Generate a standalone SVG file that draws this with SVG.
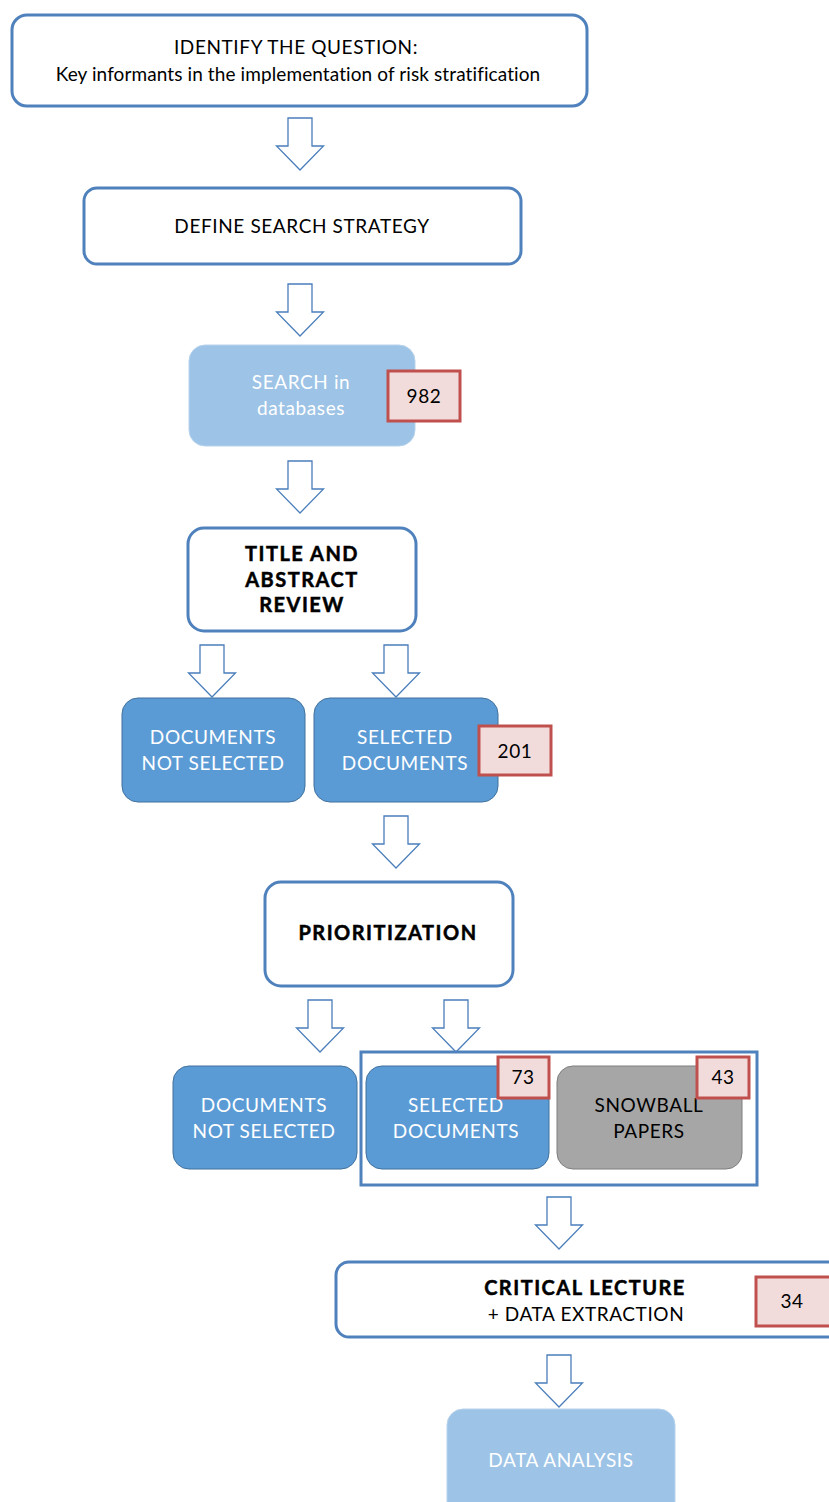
<svg xmlns="http://www.w3.org/2000/svg" width="829" height="1502" viewBox="0 0 829 1502">
  <defs>
    <style>
      text { font-family: Lato, "Open Sans", "Liberation Sans", sans-serif; font-size: 19px; letter-spacing: 0.6px; text-anchor: middle; dominant-baseline: middle; }
      .dark { fill: #000000; }
      .light { fill: #ffffff; }
      .plain { letter-spacing: 0.1px; }
      .bold { font-weight: bold; font-size: 20px; letter-spacing: 1.5px; stroke: #000000; stroke-width: 0.5px; }
      .outline { fill: #ffffff; stroke: #4f81bd; stroke-width: 3; }
      .pale { fill: #9dc3e6; stroke: #b7d3ec; stroke-width: 1; }
      .mid { fill: #5b9bd5; stroke: #41719c; stroke-width: 1; }
      .grey { fill: #a6a6a6; stroke: #7f7f7f; stroke-width: 1; }
      .badge { fill: #f2dcdb; stroke: #c0504d; stroke-width: 3; }
      .frame { fill: none; stroke: #4f81bd; stroke-width: 3; }
      .arrow { fill: #ffffff; stroke: #4a7ebb; stroke-width: 1.3; }
    </style>
    <!-- block arrow pointing down, tip at origin -->
    <path id="down" d="M -12 -52 L 12 -52 L 12 -24 L 23.5 -24 L 0 0 L -23.5 -24 L -12 -24 Z"/>
  </defs>

  <g id="connectors">
    <use href="#down" class="arrow" x="300" y="170"/>
    <use href="#down" class="arrow" x="300" y="336"/>
    <use href="#down" class="arrow" x="300" y="513"/>
    <use href="#down" class="arrow" x="212" y="697"/>
    <use href="#down" class="arrow" x="396" y="697"/>
    <use href="#down" class="arrow" x="396" y="868"/>
    <use href="#down" class="arrow" x="320" y="1052"/>
    <use href="#down" class="arrow" x="456" y="1052"/>
    <use href="#down" class="arrow" x="559" y="1249"/>
    <use href="#down" class="arrow" x="559" y="1407"/>
  </g>

  <g id="identify-question">
    <rect class="outline" x="12" y="15" width="575" height="91" rx="15"/>
    <text class="dark" x="296" y="49">IDENTIFY THE QUESTION:</text>
    <text class="dark plain" x="298" y="76">Key informants in the implementation of risk stratification</text>
  </g>

  <g id="search-strategy">
    <rect class="outline" x="84" y="188" width="437" height="76" rx="13"/>
    <text class="dark" x="302" y="228">DEFINE SEARCH STRATEGY</text>
  </g>

  <g id="search-databases">
    <rect class="pale" x="189" y="345" width="226" height="101" rx="16"/>
    <text class="light" x="301" y="384">SEARCH in</text>
    <text class="light" x="301" y="410">databases</text>
    <rect class="badge" x="388" y="371" width="72" height="50"/>
    <text class="dark" x="424" y="398">982</text>
  </g>

  <g id="title-abstract-review">
    <rect class="outline" x="188" y="528" width="228" height="103" rx="16"/>
    <text class="dark bold" x="302" y="556">TITLE AND</text>
    <text class="dark bold" x="302" y="582">ABSTRACT</text>
    <text class="dark bold" x="302" y="607">REVIEW</text>
  </g>

  <g id="not-selected-1">
    <rect class="mid" x="122" y="698" width="183" height="104" rx="16"/>
    <text class="light" x="213" y="739">DOCUMENTS</text>
    <text class="light" x="213" y="765">NOT SELECTED</text>
  </g>

  <g id="selected-1">
    <rect class="mid" x="314" y="698" width="184" height="104" rx="16"/>
    <text class="light" x="405" y="739">SELECTED</text>
    <text class="light" x="405" y="765">DOCUMENTS</text>
    <rect class="badge" x="479" y="726" width="72" height="49"/>
    <text class="dark" x="515" y="753">201</text>
  </g>

  <g id="prioritization">
    <rect class="outline" x="265" y="882" width="248" height="104" rx="16"/>
    <text class="dark bold" x="388" y="935">PRIORITIZATION</text>
  </g>

  <g id="included-set">
    <rect class="frame" x="361" y="1052" width="396" height="133"/>
  </g>

  <g id="not-selected-2">
    <rect class="mid" x="173" y="1066" width="184" height="103" rx="16"/>
    <text class="light" x="264" y="1107">DOCUMENTS</text>
    <text class="light" x="264" y="1133">NOT SELECTED</text>
  </g>

  <g id="selected-2">
    <rect class="mid" x="366" y="1066" width="183" height="103" rx="16"/>
    <text class="light" x="456" y="1107">SELECTED</text>
    <text class="light" x="456" y="1133">DOCUMENTS</text>
    <rect class="badge" x="498" y="1057" width="51" height="41"/>
    <text class="dark" x="523" y="1079">73</text>
  </g>

  <g id="snowball-papers">
    <rect class="grey" x="557" y="1066" width="185" height="103" rx="16"/>
    <text class="dark" x="649" y="1107">SNOWBALL</text>
    <text class="dark" x="649" y="1133">PAPERS</text>
    <rect class="badge" x="697" y="1057" width="52" height="41"/>
    <text class="dark" x="723" y="1079">43</text>
  </g>

  <g id="critical-lecture">
    <rect class="outline" x="336" y="1262" width="510" height="75" rx="13"/>
    <text class="dark bold" x="585" y="1290">CRITICAL LECTURE</text>
    <text class="dark" x="586" y="1316">+ DATA EXTRACTION</text>
    <rect class="badge" x="756" y="1277" width="80" height="49"/>
    <text class="dark" x="792" y="1303">34</text>
  </g>

  <g id="data-analysis">
    <rect class="pale" x="447" y="1409" width="228" height="110" rx="16"/>
    <text class="light" x="561" y="1462">DATA ANALYSIS</text>
  </g>
</svg>
